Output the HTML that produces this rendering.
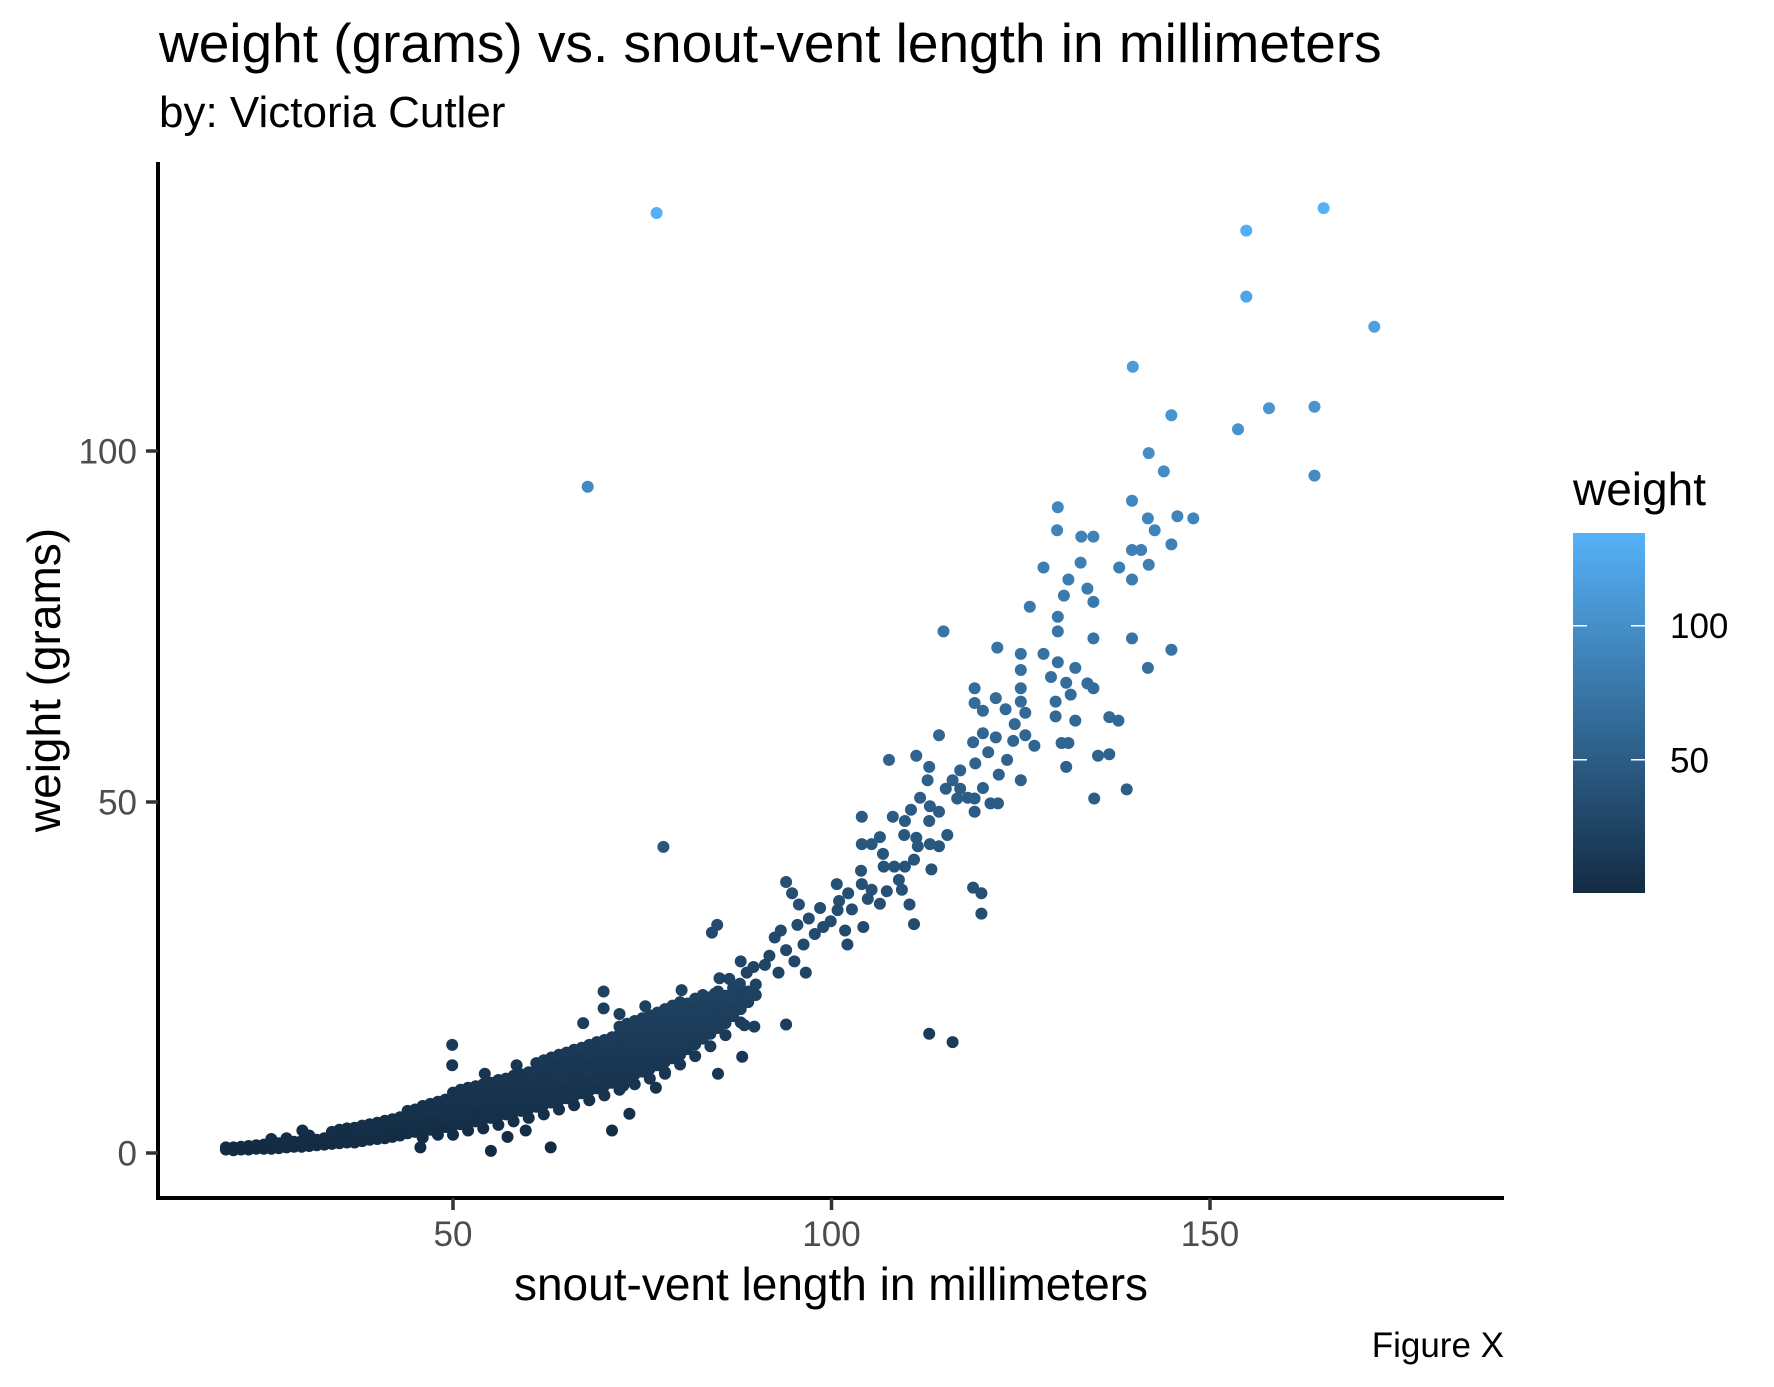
<!DOCTYPE html>
<html><head><meta charset="utf-8"><style>
html,body{margin:0;padding:0;background:#fff;}
svg{display:block;font-family:"Liberation Sans",Arial,sans-serif;}
</style></head><body>
<svg id="chart" width="1774" height="1387" viewBox="0 0 1774 1387" xmlns="http://www.w3.org/2000/svg">
<defs><linearGradient id="cbar" x1="0" y1="1" x2="0" y2="0">
<stop offset="0" stop-color="#132B43"/><stop offset="1" stop-color="#56B1F7"/></linearGradient></defs>
<text x="159" y="62" font-size="55" fill="#000">weight (grams) vs. snout-vent length in millimeters</text>
<text x="159" y="127" font-size="44" fill="#000">by: Victoria Cutler</text>
<g id="points"></g>
<line x1="158" y1="162" x2="158" y2="1200" stroke="#000" stroke-width="4"/>
<line x1="156" y1="1198" x2="1504" y2="1198" stroke="#000" stroke-width="4"/>
<g id="yticks"></g>
<g id="xticks"></g>
<text x="831" y="1300" font-size="46" text-anchor="middle" fill="#000">snout-vent length in millimeters</text>
<text x="0" y="0" font-size="46" text-anchor="middle" fill="#000" transform="translate(60,680) rotate(-90)">weight (grams)</text>
<text x="1504" y="1357" font-size="35" text-anchor="end" fill="#000">Figure X</text>
<g>
<text x="1573" y="505" font-size="46" fill="#000">weight</text>
<rect x="1573" y="533" width="72" height="360" fill="url(#cbar)"/>
<g id="legticks"></g>
</g>
</svg>
<script>
const xTicks = [50, 100, 150];
const yTicks = [0, 50, 100];
const legendTicks = [50, 100];
const outlierSvl = [76.9,165,154.8,154.8,171.7,139.8,144.9,157.8,163.8,153.7,163.8,141.9,143.9,67.8,139.7,147.8,145.7,141.8,142.7,129.9,129.8,133,134.6,144.9,139.7,140.9,141.9,138,128,132.9,131.3,130.7,133.8,134.6,126.2,139.7,129.9,129.9,114.8,144.9,139.7,134.6,121.9,128,125,141.8,129.9,125,132.2,129,131,133.8,134.6,118.9,125,125,121.7,118.9,129.6,131.6,120,123,125.6,129.6,132.2,136.7,137.9,124.2,114.2,120,118.7,121.7,124,125.6,126.8,130.4,131.3,136.7,135.2,107.6,111.2,112.9,120.7,119,123.2,125,122.1,131,134.7,139,117,116,115.1,117,118,116.6,118.9,120,121,122,118.9,112.7,111.7,113,114.2,112.9,110.5,109.7,108.1,109.6,106.4,115.3,114.2,113,111.2,111.4,110.9,104,104,105.3,106.8,106.9,108.3,109.7,113.2,108.9,105.3,107.3,103.9,104,102.2,100.7,101,100.8,99.9,102.7,104.8,106.4,104.2,109.3,110.3,110.9,102.1,101.8,98.9,98.5,97,97.8,96.3,95.7,94,94.8,95.5,93.3,94,95.1,92.5,91.8,91.2,93,96.6,94,88,89.7,88.8,87.9,89.9,85.2,84.2,84.9,86.5,88.2,84.6,88.2,85,77.8,88.5,89.8,118.7,119.8,119.8,112.9,116,
45.7,55,62.9,57.2,59.6,71,73.3,72.5,76.8,78,49.9,49.9,69.9,69.9,67.2,58.4,54.2,72,75.4,80.2,30.1,46,48,50,52,54,56,58,60,62,64,66,68,70,72,74,76,78,80,82,84,86,88];
const outlierWt = [133.9,134.6,131.4,122,117.7,112,105.1,106.1,106.3,103.1,96.5,99.7,97.1,94.9,92.9,90.4,90.7,90.4,88.7,92,88.7,87.8,87.8,86.7,85.9,85.9,83.8,83.4,83.4,84.1,81.7,79.4,80.4,78.5,77.8,81.7,76.4,74.3,74.3,71.7,73.3,73.3,72,71.1,71.1,69.1,69.9,68.8,69.1,67.8,67,66.9,66.2,66.2,66.2,64.3,64.8,64.1,64.3,65.3,63,63.2,62.7,62.2,61.6,62.1,61.6,61.1,59.5,59.8,58.5,59.2,58.7,59.5,58,58.4,58.4,56.8,56.6,56,56.6,55,57.1,55.5,56,53.1,53.9,55,50.5,51.8,54.5,53.1,51.9,51.9,50.6,50.5,50.5,52,49.8,49.8,48.6,53.1,50.6,49.4,48.6,47.3,48.9,47.3,47.9,45.3,45,45.3,43.7,44,44.9,43.7,41.8,47.9,44,44,42.6,40.8,40.8,40.8,40.4,38.9,37.5,37.3,40.2,38.3,37,38.3,35.9,34.6,33,34.7,36.2,35.5,32.2,37.5,35.4,32.6,29.7,31.7,32.2,34.9,33.4,31.2,29.7,35.4,38.6,37,32.5,31.7,28.9,27.3,30.7,28.1,26.8,25.7,25.7,18.3,27.3,26.5,25.7,24.1,22.5,24.9,31.4,32.5,24.8,22.8,22.7,13.7,11.3,43.6,18.2,18,37.8,37,34.1,17,15.8,
0.8,0.3,0.8,2.3,3.2,3.2,5.6,9.6,9.3,11.3,15.4,12.5,23,20.6,18.5,12.5,11.3,19.8,20.9,23.2,3.2,2.2,2.6,2.6,3.2,3.5,4.0,4.5,5.0,5.5,6.2,6.8,7.5,8.2,9.0,9.8,10.6,11.5,12.6,13.8,15.2,16.8,18.6];
const bandSvl = [20,21,22,23,24,25,26,27,28,29,30,31,32,33,34,35,36,37,38,39,40,41,42,43,44,45,46,47,48,49,50,51,52,53,54,55,56,57,58,59,60,61,62,63,64,65,66,67,68,69,70,71,72,73,74,75,76,77,78,79,80,81,82,83,84,85,86,87,88,89,90];
const bandWt = [[0.5,0.8],[0.4,0.8],[0.5,0.9],[0.5,1.0],[0.6,1.1],[0.6,1.2],[0.6,1.3,2.0],[0.7,1.4],[0.8,1.5,2.1],[0.9,1.6],[0.9,1.7],[1.0,1.8,2.5],[1.1,1.9],[1.2,2.1],[1.3,2.2,3.0],[1.4,2.4,3.3],[1.5,2.6,3.5],[1.5,2.7,3.6],[1.7,2.9,3.9],[1.9,3.1,4.1],[2.0,3.2,4.3],[2.1,3.4,4.6],[2.3,3.6,4.8],[2.5,3.8,5.1],[2.8,4.0,5.3,6.0],[3.0,4.2,5.5,6.2],[3.2,4.4,5.7,6.7],[3.3,4.6,5.9,7.0],[3.5,4.8,6.1,7.3],[3.7,5.0,6.3,7.6],[3.9,5.2,6.5,7.8,8.6],[4.1,5.4,6.7,8.0,9.0],[4.3,5.6,6.9,8.2,9.3],[4.5,5.8,7.1,8.4,9.5],[4.8,6.1,7.4,8.7,9.8],[5.0,6.3,7.6,8.9,10.0],[5.3,6.6,7.9,9.2,10.4],[5.5,6.8,8.1,9.4,10.6],[5.8,7.1,8.4,9.7,11.0],[6.0,7.3,8.6,9.9,11.2],[6.3,7.6,8.9,10.2,11.5],[6.6,7.9,9.2,10.5,11.8,12.8],[6.9,8.2,9.5,10.8,12.1,13.2],[7.2,8.5,9.8,11.1,12.4,13.6],[7.5,8.8,10.1,11.4,12.7,14.0],[7.8,9.1,10.4,11.7,13.0,14.3],[8.1,9.4,10.7,12.0,13.3,14.7],[8.5,9.8,11.1,12.4,13.7,15.0],[8.9,10.2,11.5,12.8,14.1,15.4],[9.2,10.5,11.8,13.1,14.4,15.8],[9.6,10.9,12.2,13.5,14.8,16.1],[10.0,11.3,12.6,13.9,15.2,16.5],[10.4,11.7,13.0,14.3,15.6,16.9,18.0],[10.8,12.1,13.4,14.7,16.0,17.3,18.4],[11.2,12.5,13.8,15.1,16.4,17.7,18.8],[11.6,12.9,14.2,15.5,16.8,18.1,19.2],[12.0,13.3,14.6,15.9,17.2,18.5,19.6],[12.5,13.8,15.1,16.4,17.7,19.0,20.0],[13.0,14.3,15.6,16.9,18.2,19.5,20.5],[13.5,14.8,16.1,17.4,18.7,20.0,21.0],[14.0,15.3,16.6,17.9,19.2,20.5,21.5],[14.8,16.1,17.4,18.7,20.0,21.3],[15.5,16.8,18.1,19.4,20.7,22.0],[16.3,17.6,18.9,20.2,21.5,22.5],[17.0,18.3,19.6,20.9,22.2],[17.8,19.1,20.4,21.7,23.0],[18.5,19.8,21.1,22.4],[19.5,20.8,22.0,23.5],[20.5,21.8,23.0],[21.5,23.0],[22.5,24.0]];

const NS = "http://www.w3.org/2000/svg";
const X0 = 453, XPU = 7.57;
const Y0 = 1153, YPU = 7.02;
function sx(v){ return X0 + (v - 50) * XPU; }
function sy(v){ return Y0 - v * YPU; }
const WMIN = 0.3, WMAX = 134.6;
const CB_TOP = 533, CB_BOT = 893;
function ly(v){ return CB_BOT - (v - WMIN) / (WMAX - WMIN) * (CB_BOT - CB_TOP); }
function col(w){
  const t = Math.max(0, Math.min(1, (w - WMIN) / (WMAX - WMIN)));
  const a = [0x13,0x2B,0x43], b = [0x56,0xB1,0xF7];
  return "rgb(" + a.map((c,i)=>Math.round(c + (b[i]-c)*t)).join(",") + ")";
}
const pts = document.getElementById("points");
function dot(x, w){
  const c = document.createElementNS(NS, "circle");
  c.setAttribute("cx", sx(x).toFixed(1));
  c.setAttribute("cy", sy(w).toFixed(1));
  c.setAttribute("r", 6);
  c.setAttribute("fill", col(w));
  
  
  pts.appendChild(c);
}
bandSvl.forEach((x,i)=>bandWt[i].forEach(w=>dot(x,w)));
outlierSvl.forEach((x,i)=>dot(x, outlierWt[i]));

const yt = document.getElementById("yticks");
yTicks.forEach(v=>{
  const l = document.createElementNS(NS,"line");
  l.setAttribute("x1",146); l.setAttribute("x2",158);
  l.setAttribute("y1",sy(v)); l.setAttribute("y2",sy(v));
  l.setAttribute("stroke","#333"); l.setAttribute("stroke-width",3.5);
  
  
  yt.appendChild(l);
  const t = document.createElementNS(NS,"text");
  t.setAttribute("x",137); t.setAttribute("y",sy(v)+12.5);
  t.setAttribute("text-anchor","end"); t.setAttribute("font-size",35); t.setAttribute("fill","#4D4D4D");
  t.textContent = v;
  
  
  yt.appendChild(t);
});
const xt = document.getElementById("xticks");
xTicks.forEach(v=>{
  const l = document.createElementNS(NS,"line");
  l.setAttribute("x1",sx(v)); l.setAttribute("x2",sx(v));
  l.setAttribute("y1",1198); l.setAttribute("y2",1210);
  l.setAttribute("stroke","#333"); l.setAttribute("stroke-width",3.5);
  
  
  xt.appendChild(l);
  const t = document.createElementNS(NS,"text");
  t.setAttribute("x",sx(v)); t.setAttribute("y",1246);
  t.setAttribute("text-anchor","middle"); t.setAttribute("font-size",35); t.setAttribute("fill","#4D4D4D");
  t.textContent = v;
  
  
  xt.appendChild(t);
});
const lt = document.getElementById("legticks");
legendTicks.forEach(v=>{
  [[1573,1587],[1631,1645]].forEach(p=>{
    const l = document.createElementNS(NS,"line");
    l.setAttribute("x1",p[0]); l.setAttribute("x2",p[1]);
    l.setAttribute("y1",ly(v)); l.setAttribute("y2",ly(v));
    l.setAttribute("stroke","#fff"); l.setAttribute("stroke-width",1.5);
    
    
    lt.appendChild(l);
  });
  const t = document.createElementNS(NS,"text");
  t.setAttribute("x",1670); t.setAttribute("y",ly(v)+12.5);
  t.setAttribute("font-size",35); t.setAttribute("fill","#000");
  t.textContent = v;
  
  
  lt.appendChild(t);
});
</script>
</body></html>
